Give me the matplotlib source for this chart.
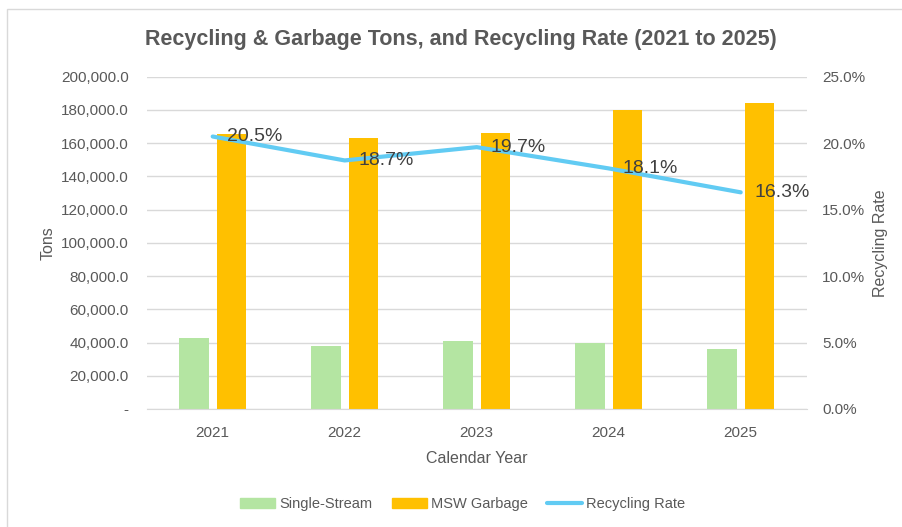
import numpy as np
import matplotlib
matplotlib.use("Agg")
import matplotlib.pyplot as plt
from matplotlib.patches import Rectangle
from matplotlib.lines import Line2D
from matplotlib.ticker import FuncFormatter

years = ["2021", "2022", "2023", "2024", "2025"]
single_stream = [42800, 37800, 41000, 39800, 36000]
msw_garbage = [165500, 163300, 166400, 179900, 184200]
recycling_rate = [20.5, 18.7, 19.7, 18.1, 16.3]

green = "#B4E5A2"
orange = "#FFC000"
blue = "#61CBF3"
txt = "#595959"
grid = "#D9D9D9"

plt.rcParams['font.family'] = ['Liberation Sans', 'DejaVu Sans']

fig = plt.figure(figsize=(9.02, 5.27), dpi=100)
fig.patches.append(Rectangle((7 / 902, -0.1), 1.2, 1 - 9 / 527 + 0.1, transform=fig.transFigure,
                             fill=False, edgecolor=grid, linewidth=1.0))

ax = fig.add_axes([146.7 / 902, 1 - 409 / 527, 660 / 902, (409 - 76.7) / 527])
x = np.arange(len(years))
w = 0.226
off = 0.143
ax.bar(x - off, single_stream, w, color=green, label="Single-Stream", zorder=2)
ax.bar(x + off, msw_garbage, w, color=orange, label="MSW Garbage", zorder=2)
ax.set_xlim(-0.5, 4.5)
ax.set_ylim(0, 200000)
ax.set_yticks(np.arange(0, 200001, 20000))
ax.yaxis.set_major_formatter(FuncFormatter(lambda v, p: "-" if v == 0 else f"{v:,.1f}"))
ax.set_xticks(x)
ax.set_xticklabels(years)
ax.grid(axis="y", color=grid, linewidth=1.0, zorder=0)
for s in ["top", "left", "right"]:
    ax.spines[s].set_visible(False)
ax.spines["bottom"].set_color(grid)
ax.tick_params(axis="both", length=0, colors=txt, labelsize=11)
ax.tick_params(axis="y", pad=13)
ax.tick_params(axis="x", pad=12)
ax.set_ylabel("Tons", color=txt, fontsize=11.5, labelpad=4)
ax.set_xlabel("Calendar Year", color=txt, fontsize=11.5, labelpad=8)

ax2 = ax.twinx()
ax2.plot(x, recycling_rate, color=blue, linewidth=3, solid_capstyle="round", zorder=3)
ax2.set_ylim(0, 25)
ax2.set_yticks(np.arange(0, 25.1, 5))
ax2.yaxis.set_major_formatter(FuncFormatter(lambda v, p: f"{v:.1f}%"))
for s in ["top", "left", "right", "bottom"]:
    ax2.spines[s].set_visible(False)
ax2.tick_params(axis="y", length=0, colors=txt, labelsize=11, pad=11)
ax2.set_ylabel("Recycling Rate", color=txt, fontsize=11.5, labelpad=6)
for xi, r in zip(x, recycling_rate):
    ax2.annotate(f"{r:.1f}%", (xi, r), xytext=(10, 0), textcoords="offset points",
                 va="center", ha="left", fontsize=14, color="#404040")

fig.text(461 / 902, 1 - 40 / 527, "Recycling & Garbage Tons, and Recycling Rate (2021 to 2025)",
         ha="center", va="center", fontsize=15.5, fontweight="bold", color=txt)

handles = [Rectangle((0, 0), 1, 1, color=green), Rectangle((0, 0), 1, 1, color=orange),
           Line2D([0], [0], color=blue, linewidth=3, solid_capstyle="round")]
fig.legend(handles, ["Single-Stream", "MSW Garbage", "Recycling Rate"], loc="center",
           bbox_to_anchor=(463 / 902, 1 - 504 / 527), ncol=3, frameon=False,
           fontsize=10.5, labelcolor=txt, handlelength=2.4, handleheight=0.7,
           handletextpad=0.3, columnspacing=1.3)

fig.savefig("out.png", dpi=100)
